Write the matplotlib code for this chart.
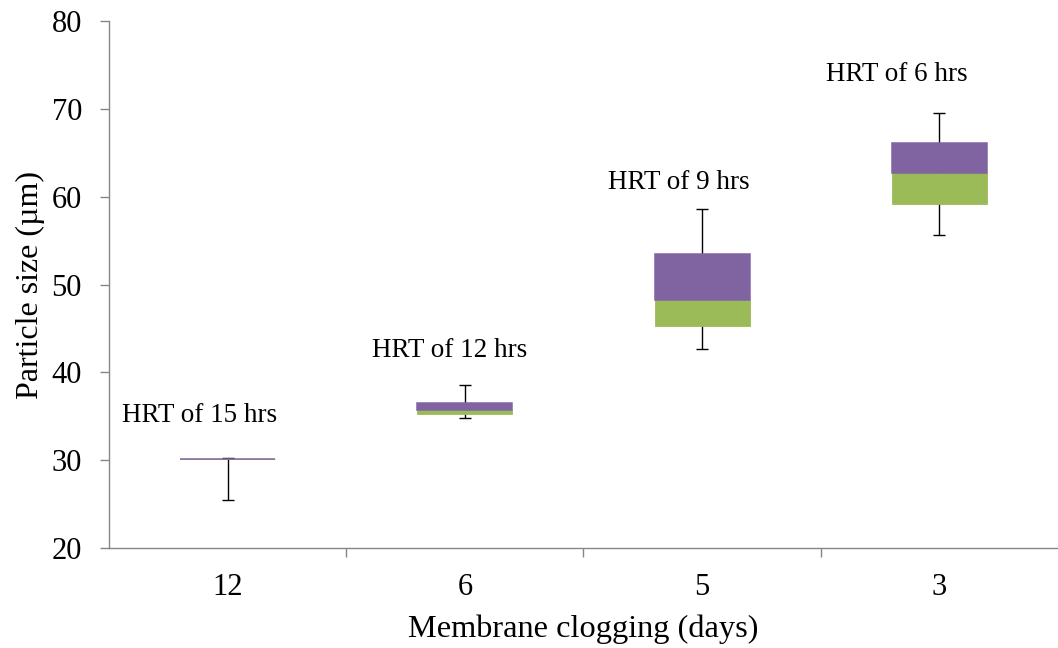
import matplotlib
matplotlib.use("Agg")
import matplotlib.pyplot as plt
import numpy as np

# Particle size statistics per membrane-clogging period
categories = ["12", "6", "5", "3"]
hrt_labels = ["HRT of 15 hrs", "HRT of 12 hrs", "HRT of 9 hrs", "HRT of 6 hrs"]
whisker_low = [25.5, 34.8, 42.7, 55.6]
quartile_1 = [30.2, 35.3, 45.3, 59.2]
median = [30.2, 35.7, 48.3, 62.7]
quartile_3 = [30.2, 36.5, 53.5, 66.1]
whisker_high = [30.3, 38.6, 58.6, 69.5]

# annotation anchor points (data coordinates)
label_x = [-0.12, 0.935, 1.9, 2.82]
label_y = [35.1, 42.5, 61.6, 73.9]

GREEN = "#9BBB59"
PURPLE = "#8064A2"
AXIS_GREY = "#868686"

plt.rcParams["font.family"] = ["Liberation Serif", "DejaVu Serif"]

fig = plt.figure(figsize=(10.58, 6.48), dpi=100)
ax = fig.add_axes([0.103, 0.154, 0.897, 0.8136])

x = np.arange(len(categories))
lo = np.array(whisker_low)
hi = np.array(whisker_high)
q1 = np.array(quartile_1)
md = np.array(median)
q3 = np.array(quartile_3)

# whiskers spanning min..max, drawn behind the boxes
ax.errorbar(x, (lo + hi) / 2, yerr=(hi - lo) / 2, fmt="none",
            ecolor="black", elinewidth=1.0, capsize=4.6, capthick=1.0, zorder=1)

width = 0.4
ax.bar(x, md - q1, bottom=q1, width=width, color=GREEN,
       edgecolor=GREEN, linewidth=0.6, zorder=2)
ax.bar(x, q3 - md, bottom=md, width=width, color=PURPLE,
       edgecolor=PURPLE, linewidth=1.1, zorder=3)

for xi, yi, txt in zip(label_x, label_y, hrt_labels):
    ax.text(xi, yi, txt, ha="center", va="center", fontsize=19.5, color="black")

ax.set_xlim(-0.5, 3.5)
ax.set_ylim(20, 80)
ax.set_yticks(np.arange(20, 81, 10))
ax.set_xticks(x)
ax.set_xticklabels(categories)
ax.set_xticks([0.5, 1.5, 2.5], minor=True)

ax.tick_params(axis="x", which="major", length=0, pad=18, labelsize=22)
ax.tick_params(axis="x", which="minor", length=6.5, width=1, color=AXIS_GREY, direction="out")
ax.tick_params(axis="y", length=6.5, width=1, color=AXIS_GREY, direction="out", pad=13, labelsize=22)

for side in ("top", "right"):
    ax.spines[side].set_visible(False)
for side in ("left", "bottom"):
    ax.spines[side].set_color(AXIS_GREY)
    ax.spines[side].set_linewidth(1.0)

ax.set_ylabel("Particle size (µm)", fontsize=23, labelpad=5)
ax.set_xlabel("Membrane clogging (days)", fontsize=23.3, labelpad=9)

fig.savefig("out.png", dpi=100)
